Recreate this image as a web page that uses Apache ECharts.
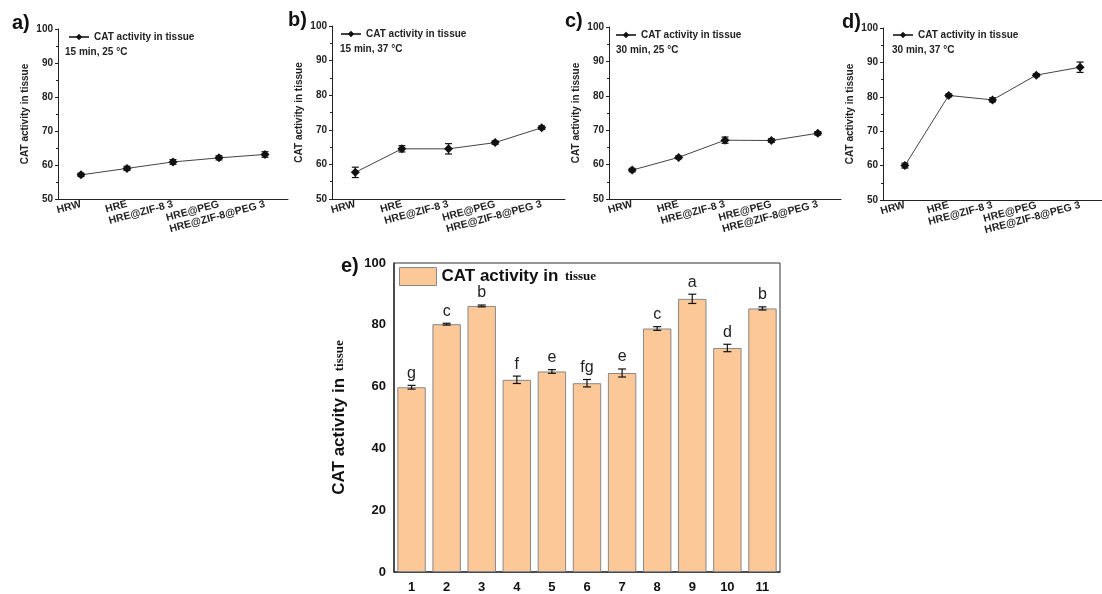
<!DOCTYPE html>
<html>
<head>
<meta charset="utf-8">
<script src="https://cdn.jsdelivr.net/npm/echarts@6/dist/echarts.min.js"></script>
<style>
	html, body { margin: 0; padding: 0; background: #fff; }
	#chart { width: 1102px; height: 594px; }
</style>
</head>
<body>
<div id="chart"></div>
<script>
// groups for panels a-d
const groups = ['HRW', 'HRE', 'HRE@ZIF-8 3', 'HRE@PEG', 'HRE@ZIF-8@PEG 3'];
const aVal = [57.1, 59.0, 60.9, 62.1, 63.1];
const aErr = [0.5, 0.6, 0.7, 0.6, 0.8];
const bVal = [57.7, 64.5, 64.5, 66.3, 70.6];
const bErr = [1.5, 0.9, 1.5, 0.5, 0.5];
const cVal = [58.4, 62.1, 67.1, 67.0, 69.1];
const cErr = [0.5, 0.4, 0.9, 0.5, 0.5];
const dVal = [60.0, 80.4, 79.1, 86.3, 88.6];
const dErr = [0.7, 0.4, 0.6, 0.4, 1.5];
const conditions = ['15 min, 25 °C', '15 min, 37 °C', '30 min, 25 °C', '30 min, 37 °C'];

// panel e
const eCats = ['1', '2', '3', '4', '5', '6', '7', '8', '9', '10', '11'];
const eVal = [59.8, 80.2, 86.1, 62.2, 64.9, 61.1, 64.4, 78.8, 88.4, 72.5, 85.3];
const eErr = [0.6, 0.3, 0.3, 1.2, 0.6, 1.2, 1.3, 0.6, 1.5, 1.2, 0.5];
const eLetters = ['g', 'c', 'b', 'f', 'e', 'fg', 'e', 'c', 'a', 'd', 'b'];

const SANS = 'Liberation Sans';
const SERIF = 'Liberation Serif';
const lineName = 'CAT activity in tissue';
const barName = 'CAT activity in tissue ';

let myChart = echarts.init(document.getElementById('chart'));

function errItem(capW, letters) {
	return function(params, api) {
		let x = api.value(0), v = api.value(1), e = api.value(2);
		let top = api.coord([x, v + e]);
		let bot = api.coord([x, v - e]);
		let style = { stroke: '#111', lineWidth: 1.2 };
		let children = [
			{ type: 'line', shape: { x1: top[0], y1: top[1], x2: bot[0], y2: bot[1] }, style: style },
			{ type: 'line', shape: { x1: top[0] - capW, y1: top[1], x2: top[0] + capW, y2: top[1] }, style: style },
			{ type: 'line', shape: { x1: bot[0] - capW, y1: bot[1], x2: bot[0] + capW, y2: bot[1] }, style: style }
		];
		if (letters) {
			children.push({
				type: 'text',
				style: {
					x: top[0], y: top[1] - 4, text: letters[params.dataIndex],
					fill: '#222', font: '16px ' + SANS,
					textAlign: 'center', textVerticalAlign: 'bottom'
				}
			});
		}
		return { type: 'group', children: children };
	};
}

const small = [
	{ val: aVal, err: aErr, left: 58, top: 29, width: 230, height: 170, tag: 'a)', tx: 12, ty: 13, lx: 68, ly: 32, sx: 65, sy: 47 },
	{ val: bVal, err: bErr, left: 332, top: 26, width: 233, height: 173, tag: 'b)', tx: 288, ty: 10, lx: 340, ly: 29, sx: 340, sy: 44 },
	{ val: cVal, err: cErr, left: 609, top: 27, width: 232, height: 172, tag: 'c)', tx: 565, ty: 11, lx: 615, ly: 30, sx: 616, sy: 45 },
	{ val: dVal, err: dErr, left: 883, top: 28, width: 232, height: 172, tag: 'd)', tx: 842, ty: 12, lx: 892, ly: 30, sx: 892, sy: 45 }
];

let grid = [], xAxis = [], yAxis = [], series = [], legend = [], graphic = [];

small.forEach((p, i) => {
	grid.push({ left: p.left, top: p.top, width: p.width, height: p.height });
	xAxis.push({
		type: 'category', gridIndex: i, data: groups,
		axisLine: { lineStyle: { color: '#222', width: 1 } },
		axisTick: { show: false },
		axisLabel: { rotate: 15, margin: 5, fontSize: 10.5, fontWeight: 'bold', color: '#222', fontFamily: SANS, interval: 0 }
	});
	yAxis.push({
		type: 'value', gridIndex: i, min: 50, max: 100, interval: 10,
		name: 'CAT activity in tissue', nameLocation: 'middle', nameGap: 28,
		nameTextStyle: { fontSize: 10, fontWeight: 'bold', color: '#222', fontFamily: SANS },
		axisLine: { show: true, lineStyle: { color: '#222', width: 1 } },
		axisTick: { show: true, length: 3, lineStyle: { color: '#222' } },
		minorTick: { show: true, splitNumber: 2, length: 2, lineStyle: { color: '#222' } },
		splitLine: { show: false },
		axisLabel: { margin: 5, fontSize: 10, fontWeight: 'bold', color: '#222', fontFamily: SANS }
	});
	series.push({
		name: lineName, type: 'line', xAxisIndex: i, yAxisIndex: i,
		data: p.val, symbol: 'diamond', symbolSize: 9,
		itemStyle: { color: '#111' },
		lineStyle: { color: '#444', width: 1 },
		z: 3
	});
	series.push({
		name: 'err' + i, type: 'custom', xAxisIndex: i, yAxisIndex: i,
		data: p.val.map((v, k) => [k, v, p.err[k]]),
		renderItem: errItem(3.5), z: 4
	});
	legend.push({
		data: [lineName], left: p.lx, top: p.ly, padding: 0,
		itemWidth: 20, itemHeight: 8, itemGap: 0,
		textStyle: { fontSize: 10, fontWeight: 'bold', color: '#222', fontFamily: SANS, padding: [0, 0, 0, 0] }
	});
	graphic.push({
		type: 'text', left: p.sx, top: p.sy,
		style: { text: conditions[i], font: 'bold 10px ' + SANS, fill: '#222' }
	});
	graphic.push({
		type: 'text', left: p.tx, top: p.ty,
		style: { text: p.tag, font: 'bold 20px ' + SANS, fill: '#111' }
	});
});

// panel e
grid.push({ left: 394, top: 263, width: 386, height: 310, show: true, borderColor: '#333', borderWidth: 1 });
xAxis.push({
	type: 'category', gridIndex: 4, data: eCats,
	axisLine: { lineStyle: { color: '#333', width: 1.5 } },
	axisTick: { show: false },
	axisLabel: { margin: 9, fontSize: 13, fontWeight: 'bold', color: '#111', fontFamily: SANS }
});
yAxis.push({
	type: 'value', gridIndex: 4, min: 0, max: 100, interval: 20,
	name: '{a|CAT activity in}  {b|tissue}', nameLocation: 'middle', nameGap: 46,
	nameTextStyle: {
		rich: {
			a: { fontSize: 17, fontWeight: 'bold', color: '#111', fontFamily: SANS },
			b: { fontSize: 13, fontWeight: 'bold', color: '#111', fontFamily: SERIF }
		}
	},
	axisLine: { show: true, lineStyle: { color: '#333', width: 1.5 } },
	axisTick: { show: false },
	splitLine: { show: false },
	axisLabel: { margin: 8, fontSize: 13, fontWeight: 'bold', color: '#111', fontFamily: SANS }
});
series.push({
	name: barName, type: 'bar', xAxisIndex: 4, yAxisIndex: 4,
	data: eVal, barWidth: '81%',
	itemStyle: { color: '#FCC897', borderColor: '#888', borderWidth: 1 }
});
series.push({
	name: 'errE', type: 'custom', xAxisIndex: 4, yAxisIndex: 4,
	data: eVal.map((v, k) => [k, v, eErr[k]]),
	renderItem: errItem(4, eLetters), z: 5
});
legend.push({
	data: [{ name: barName, icon: 'rect' }], left: 399, top: 267, padding: 0,
	itemWidth: 37, itemHeight: 18,
	itemStyle: { color: '#FCC897', borderColor: '#888', borderWidth: 1 },
	formatter: function() { return '{a|CAT activity in}  {b|tissue}'; },
	textStyle: {
		rich: {
			a: { fontSize: 17, fontWeight: 'bold', color: '#111', fontFamily: SANS },
			b: { fontSize: 13, fontWeight: 'bold', color: '#111', fontFamily: SERIF }
		}
	}
});
graphic.push({
	type: 'text', left: 341, top: 256,
	style: { text: 'e)', font: 'bold 20px ' + SANS, fill: '#111' }
});

option = {
	animation: false,
	backgroundColor: '#fff',
	grid: grid,
	xAxis: xAxis,
	yAxis: yAxis,
	legend: legend,
	graphic: graphic,
	series: series
};
myChart.setOption(option);
window.onresize = myChart.resize;
</script>
</body>
</html>
